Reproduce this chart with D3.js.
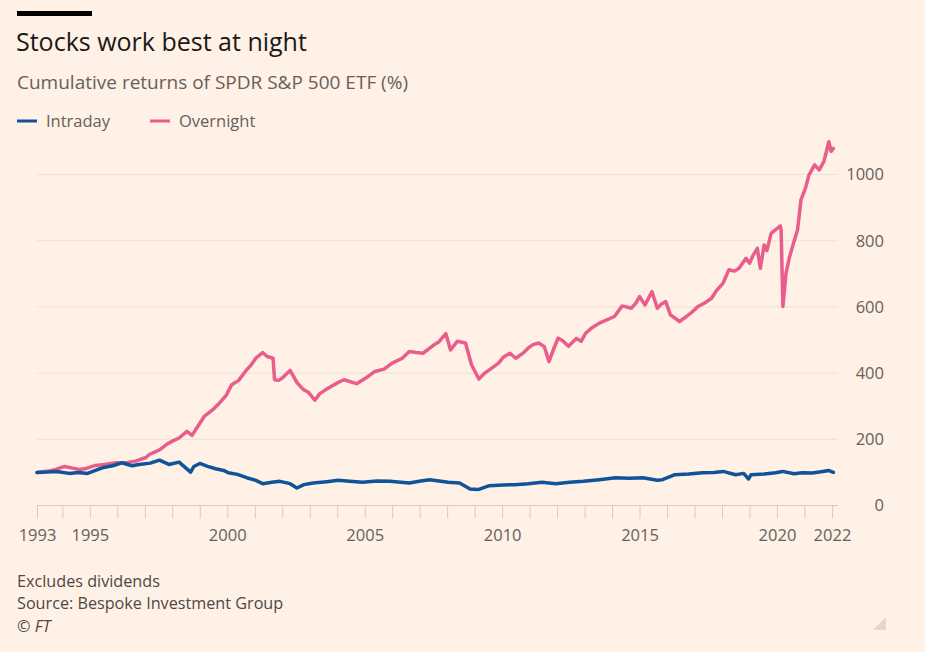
<!DOCTYPE html>
<html>
<head>
<meta charset="utf-8">
<script src="https://cdn.jsdelivr.net/npm/d3@7"></script>
<style>
  html, body { margin: 0; padding: 0; background: #fff1e5; }
  svg { display: block; font-family: "Open Sans", "Noto Sans", sans-serif; }
</style>
</head>
<body>
<svg width="925" height="652"></svg>
<script>
var parseDate = d3.timeParse("%Y-%m-%d");

// series: [date, cumulative return %]
var overnight = [
  ["1993-01-29", 100], ["1993-04-15", 102], ["1993-07-01", 104], ["1993-10-15", 110],
  ["1994-02-01", 118], ["1994-05-15", 113], ["1994-08-15", 109], ["1994-11-15", 112],
  ["1995-03-15", 121], ["1995-07-15", 124], ["1995-12-15", 129], ["1996-05-15", 130],
  ["1996-09-01", 134], ["1997-01-15", 145], ["1997-03-01", 154], ["1997-07-15", 168],
  ["1997-10-15", 184], ["1998-01-15", 196], ["1998-04-01", 204], ["1998-07-15", 224],
  ["1998-09-20", 212], ["1998-11-15", 232], ["1999-03-01", 269], ["1999-06-15", 288],
  ["1999-09-01", 305], ["1999-12-15", 332], ["2000-03-01", 365], ["2000-06-01", 378],
  ["2000-09-15", 410], ["2000-11-15", 425], ["2001-01-15", 445], ["2001-04-15", 462],
  ["2001-06-15", 450], ["2001-09-01", 445], ["2001-09-20", 380], ["2001-11-15", 378],
  ["2002-01-01", 385], ["2002-04-15", 408], ["2002-07-20", 370], ["2002-10-10", 350],
  ["2002-12-15", 342], ["2003-03-10", 318], ["2003-05-15", 338], ["2003-08-15", 352],
  ["2004-01-15", 372], ["2004-04-01", 380], ["2004-09-15", 368], ["2005-01-15", 385],
  ["2005-05-15", 405], ["2005-09-15", 412], ["2006-01-01", 430], ["2006-05-15", 445],
  ["2006-08-15", 465], ["2006-11-15", 462], ["2007-02-15", 460], ["2007-07-15", 486],
  ["2007-09-15", 495], ["2007-12-15", 519], ["2008-02-15", 470], ["2008-05-15", 496],
  ["2008-09-01", 491], ["2008-11-20", 425], ["2009-02-25", 382], ["2009-05-15", 400],
  ["2009-08-15", 415], ["2009-11-15", 430], ["2010-01-15", 448], ["2010-04-15", 460],
  ["2010-07-01", 445], ["2010-10-15", 462], ["2010-12-15", 476], ["2011-02-15", 486],
  ["2011-05-01", 491], ["2011-07-15", 480], ["2011-09-15", 435], ["2011-11-15", 472],
  ["2012-01-15", 506], ["2012-03-15", 498], ["2012-06-01", 481], ["2012-09-15", 505],
  ["2012-11-15", 496], ["2013-01-15", 521], ["2013-04-15", 538], ["2013-07-15", 551],
  ["2013-10-15", 560], ["2014-02-01", 571], ["2014-05-15", 603], ["2014-09-15", 596],
  ["2014-11-15", 612], ["2015-01-01", 631], ["2015-03-15", 606], ["2015-06-15", 646],
  ["2015-08-25", 596], ["2015-10-15", 608], ["2015-12-15", 616], ["2016-02-15", 576],
  ["2016-06-15", 556], ["2016-09-15", 571], ["2016-12-01", 585], ["2017-02-15", 601],
  ["2017-05-15", 612], ["2017-08-15", 626], ["2017-10-15", 648], ["2018-01-15", 672],
  ["2018-04-01", 712], ["2018-06-15", 708], ["2018-08-15", 717], ["2018-11-15", 747],
  ["2019-01-01", 732], ["2019-02-15", 755], ["2019-04-15", 777], ["2019-05-25", 717],
  ["2019-07-15", 787], ["2019-08-20", 770], ["2019-10-15", 822], ["2020-02-15", 845],
  ["2020-02-25", 832], ["2020-03-20", 601], ["2020-04-30", 702], ["2020-06-15", 750],
  ["2020-07-25", 782], ["2020-09-30", 832], ["2020-11-15", 923], ["2021-01-15", 960],
  ["2021-03-01", 998], ["2021-05-15", 1029], ["2021-07-15", 1014], ["2021-09-15", 1039],
  ["2021-11-20", 1099], ["2021-12-20", 1070], ["2022-01-20", 1079]
];

var intraday = [
  ["1993-01-29", 100], ["1993-06-15", 101], ["1993-10-15", 103], ["1994-04-01", 97],
  ["1994-08-01", 100], ["1994-12-01", 97], ["1995-06-15", 114], ["1995-11-01", 120],
  ["1996-03-01", 129], ["1996-07-15", 120], ["1996-10-15", 124], ["1997-03-15", 128],
  ["1997-07-15", 137], ["1997-11-15", 124], ["1998-04-01", 131], ["1998-09-01", 101],
  ["1998-10-15", 118], ["1999-01-01", 127], ["1999-04-15", 118], ["1999-08-01", 111],
  ["1999-11-15", 106], ["2000-01-15", 99], ["2000-05-15", 94], ["2000-09-15", 84],
  ["2001-01-15", 76], ["2001-04-15", 66], ["2001-08-15", 70], ["2001-12-01", 73],
  ["2002-04-15", 66], ["2002-07-15", 53], ["2002-10-15", 63], ["2003-02-15", 68],
  ["2003-08-15", 72], ["2004-01-15", 76], ["2004-06-15", 73], ["2004-12-01", 70],
  ["2005-06-15", 74], ["2005-12-01", 73], ["2006-08-15", 68], ["2007-01-15", 74],
  ["2007-05-15", 78], ["2007-09-15", 74], ["2008-01-15", 70], ["2008-06-15", 68],
  ["2008-11-01", 50], ["2009-02-15", 48], ["2009-07-15", 60], ["2010-01-15", 62],
  ["2010-06-15", 63], ["2010-12-15", 66], ["2011-06-15", 70], ["2011-12-15", 66],
  ["2012-06-15", 70], ["2012-12-15", 73], ["2013-07-15", 78], ["2014-02-15", 84],
  ["2014-08-15", 82], ["2015-02-15", 84], ["2015-08-25", 76], ["2015-11-01", 78],
  ["2016-04-15", 93], ["2016-10-15", 95], ["2017-04-15", 99], ["2017-09-15", 100],
  ["2018-01-15", 103], ["2018-07-01", 93], ["2018-10-15", 97], ["2018-12-20", 80],
  ["2019-01-20", 93], ["2019-07-15", 95], ["2019-12-15", 99], ["2020-03-15", 103],
  ["2020-08-15", 96], ["2020-12-01", 99], ["2021-04-15", 98], ["2021-09-01", 103],
  ["2021-11-15", 106], ["2022-01-20", 100]
];

var yTicks = [0, 200, 400, 600, 800, 1000];
var xLabelYears = [1993, 1995, 2000, 2005, 2010, 2015, 2020, 2022];
var seriesNames = ["Intraday", "Overnight"];
var seriesColors = ["#0f5499", "#e95d8c"];

var svg = d3.select("svg");

svg.append("rect").attr("width", 925).attr("height", 652).attr("fill", "#fff1e5");

// header
svg.append("rect").attr("x", 17).attr("y", 11).attr("width", 75).attr("height", 5).attr("fill", "#000");
svg.append("text").attr("x", 16).attr("y", 51).attr("font-size", 25).attr("fill", "#1a1817")
  .text("Stocks work best at night");
svg.append("text").attr("x", 17).attr("y", 89).attr("font-size", 19).attr("fill", "#66605c")
  .text("Cumulative returns of SPDR S&P 500 ETF (%)");

// legend
var legendX = [17, 150];
seriesNames.forEach(function(name, i) {
  svg.append("line")
    .attr("x1", legendX[i]).attr("x2", legendX[i] + 20)
    .attr("y1", 121).attr("y2", 121)
    .attr("stroke", seriesColors[i]).attr("stroke-width", 3);
  svg.append("text").attr("x", legendX[i] + 29).attr("y", 127)
    .attr("font-size", 16.5).attr("fill", "#66605c").text(name);
});

var x = d3.scaleTime()
  .domain([parseDate("1993-01-29"), parseDate("2022-02-10")])
  .range([37, 835]);

var y = d3.scaleLinear().domain([0, 1000]).range([505.5, 174.5]);

// gridlines
svg.append("g").selectAll("line")
  .data(yTicks.filter(function(d) { return d > 0; }))
  .join("line")
  .attr("x1", 37).attr("x2", 838)
  .attr("y1", function(d) { return y(d); }).attr("y2", function(d) { return y(d); })
  .attr("stroke", "#ece1d7").attr("stroke-width", 1);

// y labels on the right
svg.append("g").selectAll("text")
  .data(yTicks)
  .join("text")
  .attr("x", 884)
  .attr("y", function(d) { return y(d); })
  .attr("dy", "0.36em")
  .attr("text-anchor", "end")
  .attr("font-size", 16.5)
  .attr("fill", "#66605c")
  .text(function(d) { return d; });

// x axis
var xTickValues = [x.domain()[0]].concat(d3.range(1994, 2023).map(function(yr) { return new Date(yr, 0, 1); }));

var xAxis = svg.append("g")
  .attr("transform", "translate(0," + y(0) + ")")
  .call(d3.axisBottom(x)
    .tickValues(xTickValues)
    .tickSize(13)
    .tickPadding(11)
    .tickFormat(function(d) {
      var yr = d.getFullYear();
      return xLabelYears.indexOf(yr) >= 0 ? yr : "";
    }));

xAxis.select(".domain").attr("stroke", "#d6ccc2").attr("d", "M37,0H838");
xAxis.selectAll(".tick line").attr("stroke", "#d6ccc2");
xAxis.selectAll(".tick text")
  .attr("font-family", "\"Open Sans\", sans-serif")
  .attr("font-size", 16.5)
  .attr("fill", "#66605c");

// lines
var line = d3.line()
  .x(function(d) { return x(parseDate(d[0])); })
  .y(function(d) { return y(d[1]); });

svg.append("path")
  .datum(overnight)
  .attr("fill", "none")
  .attr("stroke", seriesColors[1])
  .attr("stroke-width", 3.5)
  .attr("stroke-linejoin", "round")
  .attr("stroke-linecap", "round")
  .attr("d", line);

svg.append("path")
  .datum(intraday)
  .attr("fill", "none")
  .attr("stroke", seriesColors[0])
  .attr("stroke-width", 3.5)
  .attr("stroke-linejoin", "round")
  .attr("stroke-linecap", "round")
  .attr("d", line);

// footer
var notes = ["Excludes dividends", "Source: Bespoke Investment Group"];
svg.append("g").selectAll("text")
  .data(notes)
  .join("text")
  .attr("x", 17)
  .attr("y", function(d, i) { return 587 + i * 22; })
  .attr("font-size", 16.2)
  .attr("fill", "#4d4845")
  .text(function(d) { return d; });

svg.append("text").attr("x", 17).attr("y", 632)
  .attr("font-size", 16.2).attr("font-style", "italic").attr("fill", "#4d4845")
  .text("© FT");

// little corner mark
svg.append("path")
  .attr("d", "M886,617L886,630L873,630Z")
  .attr("fill", "#e3d8ce");
</script>
</body>
</html>
